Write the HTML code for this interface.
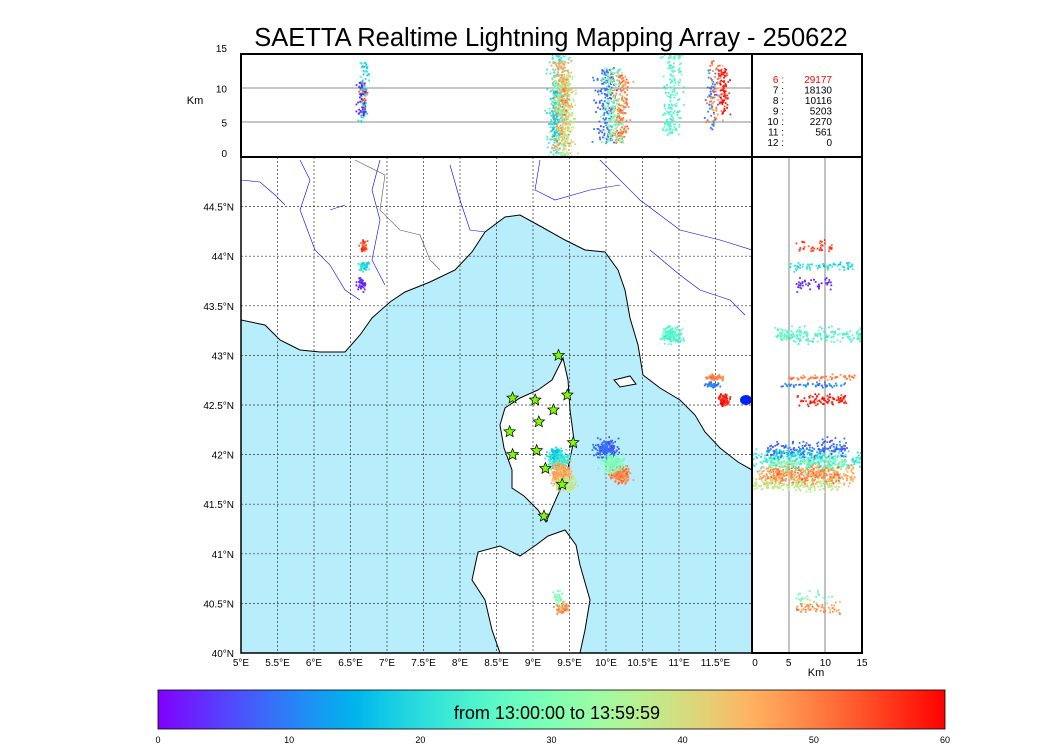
<!DOCTYPE html>
<html><head><meta charset="utf-8"><style>
body{margin:0;background:#fff;}
svg text{font-family:"Liberation Sans",sans-serif;}
</style></head><body>
<svg id="c" width="1050" height="750" xmlns="http://www.w3.org/2000/svg">
<defs>
<linearGradient id="cb" x1="0" x2="1" y1="0" y2="0"></linearGradient>
<clipPath id="mapclip"><rect x="241" y="157" width="511" height="496"/></clipPath>
<clipPath id="topclip"><rect x="241" y="54" width="511" height="103"/></clipPath>
<clipPath id="rclip"><rect x="752" y="157" width="110" height="496"/></clipPath>
</defs>
<text x="551" y="46" font-size="25.5" text-anchor="middle">SAETTA Realtime Lightning Mapping Array - 250622</text>
<g id="map" clip-path="url(#mapclip)">
<rect x="241" y="157" width="511" height="496" fill="#b8eefc"/>
<path fill="#fff" stroke="#000" stroke-width="1" d="M241,320 L265,325 L280,340 L300,350 L320,352 L345,352 L360,335 L372,318 L390,302 L405,292 L430,282 L455,270 L472,252 L485,232 L505,217 L520,215 L540,226 L565,240 L585,250 L605,252 L618,270 L625,290 L630,318 L638,345 L643,375 L660,388 L680,400 L695,415 L705,432 L720,448 L738,462 L752,470 L752,157 L241,157 Z"/>
<path fill="#fff" stroke="#000" stroke-width="1" d="M563,358 L568,380 L570,410 L574,440 L568,468 L560,490 L552,508 L546,522 L538,510 L524,496 L512,488 L512,470 L504,448 L500,425 L505,408 L520,398 L538,390 L552,380 Z"/>
<path fill="#fff" stroke="#000" stroke-width="1" d="M548,536 L565,530 L576,545 L580,565 L590,600 L585,630 L580,653 L500,653 L492,630 L485,600 L472,580 L478,552 L500,546 L520,556 L536,545 Z"/>
<path fill="#fff" stroke="#000" d="M614,380 L630,376 L636,384 L620,387 Z"/>
<g fill="none" stroke="#00f" stroke-width="0.6">
<path d="M241,180 L260,182 L275,195 L285,205"/><path d="M300,160 L310,180 L300,210 L315,250 L330,265 L345,290 L360,300"/>
<path d="M380,160 L372,190 L380,220 L372,260 L385,285"/><path d="M450,165 L460,200 L470,230 L485,232"/>
<path d="M540,160 L535,190 L555,200 L590,190 L620,185"/><path d="M600,160 L640,200 L680,230 L720,240 L752,250"/>
<path d="M650,250 L680,275 L700,290 L730,300 L745,315"/><path d="M330,210 L345,205"/>
</g>
<path d="M355,160 L385,175 L380,210 L400,230 L420,235 L430,260 L440,270" fill="none" stroke="#555" stroke-width="0.6"/>
<g id="grid" stroke="#333" stroke-width="0.7" stroke-dasharray="2,2"></g>
<g id="mappts"></g>
<ellipse cx="746" cy="400" rx="6" ry="5" fill="#0022ff"/>
<g id="stars"></g>
</g>
<rect x="241" y="157" width="511" height="496" fill="none" stroke="#000" stroke-width="1.5"/>
<g clip-path="url(#topclip)">
<line x1="241" x2="752" y1="122" y2="122" stroke="#666" stroke-width="0.8"/>
<line x1="241" x2="752" y1="88" y2="88" stroke="#666" stroke-width="0.8"/>
<g id="toppts"></g>
</g>
<rect x="241" y="54" width="511" height="103" fill="none" stroke="#000" stroke-width="2"/>
<g clip-path="url(#rclip)">
<line x1="789" x2="789" y1="157" y2="653" stroke="#666" stroke-width="0.8"/>
<line x1="825" x2="825" y1="157" y2="653" stroke="#666" stroke-width="0.8"/>
<g id="rpts"></g>
</g>
<rect x="752" y="157" width="110" height="496" fill="none" stroke="#000" stroke-width="2"/>
<rect x="752" y="54" width="110" height="103" fill="none" stroke="#000" stroke-width="2"/>
<g id="counts" font-size="10"></g>
<g id="axes" font-size="10"></g>
<text x="195" y="104" font-size="11" text-anchor="middle">Km</text>
<text x="816" y="676" font-size="11" text-anchor="middle">Km</text>
<rect x="158" y="690" width="787" height="39" fill="url(#cb)" stroke="#000" stroke-width="0.8"/>
<text x="557" y="719" font-size="18" text-anchor="middle">from 13:00:00 to 13:59:59</text>
<g id="cbticks" font-size="9"></g>
</svg>
<script>
const NS="http://www.w3.org/2000/svg";
const lonTicks=[5,5.5,6,6.5,7,7.5,8,8.5,9,9.5,10,10.5,11,11.5];
const latTicks=[40,40.5,41,41.5,42,42.5,43,43.5,44,44.5];
const altTicks=[0,5,10,15];
const cbTicks=[0,10,20,30,40,50,60];
const countLabels=["6","7","8","9","10","11","12"];
const countValues=[29177,18130,10116,5203,2270,561,0];
// clusters: lon, lat, lon spread, lat spread, alt min, alt max, time (min), count
const clLon=[6.68,6.68,6.65,10.9,11.45,11.5,11.62,9.35,9.4,9.45,10.0,10.2,10.1,9.3,9.4,9.35];
const clLat=[44.1,43.9,43.72,43.2,42.7,42.78,42.55,41.95,41.8,41.7,42.05,41.8,41.92,42.0,40.45,40.55];
const clSLon=[0.04,0.05,0.04,0.1,0.07,0.08,0.05,0.1,0.1,0.1,0.12,0.1,0.12,0.06,0.07,0.05];
const clSLat=[0.04,0.03,0.05,0.06,0.02,0.02,0.04,0.07,0.08,0.05,0.07,0.07,0.07,0.05,0.04,0.05];
const clAltMin=[6,5,6,3,4,5,6,0,1,0,2,2,2,2,6,6];
const clAltMax=[11,14,11,15,13,14,13,15,14,12,13,12,13,10,12,11];
const clTime=[55,20,3,25,10,50,58,22,46,38,8,50,30,18,48,30];
const clCount=[40,70,40,180,50,60,80,240,260,200,180,180,170,60,60,30];
const stLon=[9.35,8.72,9.03,9.47,9.28,9.08,8.68,9.55,9.05,8.72,9.17,9.4,9.15];
const stLat=[43.0,42.57,42.55,42.6,42.45,42.33,42.23,42.12,42.04,42.0,41.86,41.7,41.38];

const X=l=>241+(l-5)*73, Y=a=>653-(a-40)*99.2;
const TA=a=>157-a*103/15, RA=a=>752+a*110/15;
function rainbow(t){const x=t/60;const r=Math.min(1,Math.abs(2*x-0.5)),g=Math.sin(Math.PI*x),b=Math.cos(Math.PI*x/2);
return `rgb(${Math.round(255*r)},${Math.round(255*Math.max(0,g))},${Math.round(255*Math.max(0,b))})`;}
function mk(tag,attrs,parent){const e=document.createElementNS(NS,tag);for(const k in attrs)e.setAttribute(k,attrs[k]);parent.appendChild(e);return e;}
const $=id=>document.getElementById(id);
for(let i=0;i<=20;i++){mk("stop",{offset:(i/20),"stop-color":rainbow(i*3)},$("cb"));}
const grid=$("grid");
lonTicks.forEach(l=>{if(l>5){const e=mk("line",{x1:X(l),x2:X(l),y1:157,y2:653},grid);}});
latTicks.forEach(l=>{if(l>40){const e=mk("line",{x1:241,x2:752,y1:Y(l),y2:Y(l)},grid);}});
const ax=$("axes");
lonTicks.forEach(l=>{const e=mk("text",{x:X(l),y:666,"text-anchor":"middle"},ax);e.textContent=l+"°E";});
latTicks.forEach(l=>{const e=mk("text",{x:234,y:Y(l)+4,"text-anchor":"end"},ax);e.textContent=l+"°N";});
altTicks.forEach(a=>{const e=mk("text",{x:227,y:TA(a)+(a==0?0:a==15?-2:4),"text-anchor":"end"},ax);e.textContent=a;
const f=mk("text",{x:RA(a)+(a==0?3:0),y:666,"text-anchor":"middle"},ax);f.textContent=a;});
cbTicks.forEach(v=>{const e=mk("text",{x:158+v*787/60,y:743,"text-anchor":"middle"},$("cbticks"));e.textContent=v;});
countLabels.forEach((lab,i)=>{const y=83+i*10.5,col=i==0?"#f00":"#000";
const a=mk("text",{x:784,y:y,"text-anchor":"end",fill:col},$("counts"));a.textContent=lab+" :";
const b=mk("text",{x:832,y:y,"text-anchor":"end",fill:col},$("counts"));b.textContent=countValues[i];});
let s=12345;function rnd(){s=(s*1103515245+12345)%2147483648;return s/2147483648;}
function gauss(){return (rnd()+rnd()+rnd()-1.5)/1.5;}
for(let c=0;c<clLon.length;c++){for(let k=0;k<clCount[c];k++){
const lo=clLon[c]+gauss()*clSLon[c]*2,la=clLat[c]+gauss()*clSLat[c]*2,al=clAltMin[c]+rnd()*(clAltMax[c]-clAltMin[c]);
const t=Math.max(0,Math.min(60,clTime[c]+gauss()*6)),col=rainbow(t);
const p=mk("rect",{x:X(lo)-0.9,y:Y(la)-0.9,width:1.8,height:1.8,fill:col},$("mappts"));
const q=mk("rect",{x:X(lo)-0.9,y:TA(al)-0.9,width:1.8,height:1.8,fill:col},$("toppts"));
const r=mk("rect",{x:RA(al)-0.9,y:Y(la)-0.9,width:1.8,height:1.8,fill:col},$("rpts"));}}
function star(cx,cy,R){let d="";for(let i=0;i<10;i++){const r=i%2?R*0.45:R,a=-Math.PI/2+i*Math.PI/5;d+=(i?"L":"M")+(cx+r*Math.cos(a)).toFixed(1)+","+(cy+r*Math.sin(a)).toFixed(1);}return d+"Z";}
stLon.forEach((l,i)=>{const e=mk("path",{d:star(X(l),Y(stLat[i]),6),fill:"#7cfc00",stroke:"#000","stroke-width":0.7},$("stars"));});
</script>
</body></html>
